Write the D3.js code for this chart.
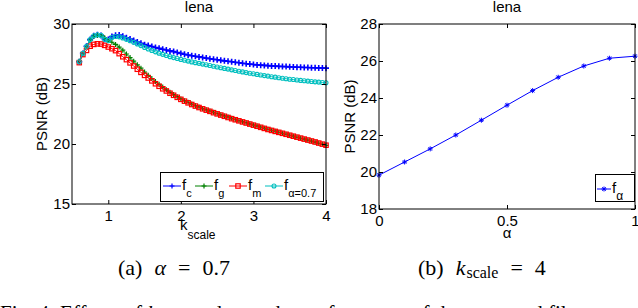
<!DOCTYPE html>
<html><head><meta charset="utf-8">
<script src="https://cdn.jsdelivr.net/npm/d3@7/dist/d3.min.js"></script>
<style>
body{margin:0;background:#fff;}
svg{display:block;}
text{font-family:"Liberation Sans",Arial,sans-serif;fill:#000;}
.cap{font-family:"Liberation Serif","Times New Roman",serif;}
</style></head>
<body><svg id="c" width="638" height="308"></svg>
<script>
// ---- data ----
const kScale = [0.6,0.65,0.7,0.75,0.8,0.85,0.9,0.95,1.0,1.05,1.1,1.15,1.2,1.25,1.3,1.35,1.4,1.45,1.5,1.55,1.6,1.65,1.7,1.75,1.8,1.85,1.9,1.95,
  2.0,2.05,2.1,2.15,2.2,2.25,2.3,2.35,2.4,2.45,2.5,2.55,2.6,2.65,2.7,2.75,2.8,2.85,2.9,2.95,3.0,3.05,3.1,3.15,3.2,3.25,3.3,3.35,3.4,3.45,3.5,3.55,3.6,3.65,3.7,3.75,3.8,3.85,3.9,3.95,4.0];
const fC = [26.85,27.55,28.15,28.7,29.02,29.1,29.05,28.72,28.7,28.95,29.06,29.08,28.98,28.85,28.74,28.62,28.5,28.39,28.28,28.2,28.12,28.04,27.97,27.9,27.83,27.76,27.7,27.63,
  27.55,27.48,27.42,27.36,27.31,27.26,27.21,27.16,27.11,27.06,27.02,26.97,26.93,26.89,26.85,26.81,26.77,26.73,26.69,26.66,26.62,26.59,26.57,26.55,26.53,26.51,26.49,26.47,26.46,26.45,26.43,26.42,26.4,26.39,26.38,26.37,26.36,26.35,26.34,26.33,26.32];
const fG = [26.9,27.5,28.1,28.65,28.98,29.05,29.05,28.85,28.6,28.48,28.3,28.08,27.82,27.5,27.2,26.9,26.6,26.32,26.0,25.72,25.45,25.2,24.97,24.74,24.52,24.31,24.12,23.94,
  23.76,23.61,23.47,23.33,23.2,23.08,22.96,22.85,22.75,22.64,22.54,22.44,22.34,22.24,22.14,22.04,21.95,21.86,21.77,21.68,21.58,21.49,21.4,21.31,21.22,21.14,21.06,20.98,20.89,20.81,20.73,20.65,20.56,20.48,20.4,20.32,20.24,20.15,20.06,19.97,19.88];
const fM = [26.78,27.45,27.8,28.15,28.3,28.35,28.33,28.22,28.08,27.94,27.78,27.53,27.27,27.03,26.76,26.5,26.23,25.97,25.72,25.5,25.26,25.02,24.81,24.6,24.42,24.23,24.06,23.89,
  23.72,23.57,23.43,23.29,23.16,23.04,22.93,22.82,22.72,22.61,22.51,22.41,22.31,22.21,22.11,22.02,21.93,21.84,21.75,21.66,21.57,21.48,21.39,21.3,21.21,21.13,21.05,20.97,20.89,20.81,20.73,20.65,20.57,20.49,20.41,20.33,20.25,20.17,20.08,19.99,19.9];
const fA07 = [26.85,27.55,28.15,28.7,29.02,29.1,29.05,28.72,28.62,28.88,28.96,28.93,28.84,28.72,28.6,28.47,28.34,28.2,28.05,27.92,27.8,27.68,27.57,27.47,27.37,27.28,27.2,27.12,
  27.05,26.98,26.91,26.84,26.78,26.72,26.66,26.6,26.54,26.48,26.42,26.36,26.3,26.24,26.18,26.12,26.06,26.01,25.95,25.9,25.85,25.8,25.75,25.7,25.66,25.61,25.57,25.52,25.48,25.44,25.4,25.37,25.33,25.3,25.27,25.24,25.21,25.18,25.16,25.13,25.11];
const alphaVals = [0,0.1,0.2,0.3,0.4,0.5,0.6,0.7,0.8,0.9,1.0];
const fAlpha = [19.83,20.54,21.25,22.0,22.8,23.61,24.4,25.12,25.73,26.15,26.26];
const leftXTicks = [1,2,3,4];
const leftYTicks = [15,20,25,30];
const rightXTicks = [0,0.5,1];
const rightYTicks = [18,20,22,24,26,28];

const svg = d3.select("#c");

function axesBox(g, x, y, xt, yt, xfmt) {
  const [x0,x1] = x.range(), [y1,y0] = y.range();
  g.append("g").attr("transform",`translate(0,${y1})`)
    .call(d3.axisBottom(x).tickValues(xt).tickFormat(xfmt).tickSizeInner(-4).tickSizeOuter(0).tickPadding(6))
    .call(a=>{a.select(".domain").remove(); a.selectAll("text").attr("font-size",15).attr("font-family","Liberation Sans, Arial, sans-serif");});
  g.append("g").attr("transform",`translate(0,${y0})`)
    .call(d3.axisTop(x).tickValues(xt).tickFormat("").tickSizeInner(-4).tickSizeOuter(0))
    .call(a=>a.select(".domain").remove());
  g.append("g").attr("transform",`translate(${x0},0)`)
    .call(d3.axisLeft(y).tickValues(yt).tickSizeInner(-4).tickSizeOuter(0).tickPadding(2))
    .call(a=>{a.select(".domain").remove(); a.selectAll("text").attr("font-size",15).attr("font-family","Liberation Sans, Arial, sans-serif");});
  g.append("g").attr("transform",`translate(${x1},0)`)
    .call(d3.axisRight(y).tickValues(yt).tickFormat("").tickSizeInner(-4).tickSizeOuter(0))
    .call(a=>a.select(".domain").remove());
  g.append("rect").attr("x",x0).attr("y",y0).attr("width",x1-x0).attr("height",y1-y0)
    .attr("fill","none").attr("stroke","#000").attr("stroke-width",1);
}

function marker(g, type, color, cx, cy) {
  if (type==="plus") {
    g.append("path").attr("d",`M${cx-3},${cy}H${cx+3}M${cx},${cy-3}V${cy+3}`).attr("stroke",color).attr("stroke-width",1.6).attr("fill","none");
  } else if (type==="plusThin") {
    g.append("path").attr("d",`M${cx-2.5},${cy}H${cx+2.5}M${cx},${cy-2.5}V${cy+2.5}`).attr("stroke",color).attr("stroke-width",1.2).attr("fill","none");
  } else if (type==="square") {
    g.append("rect").attr("x",cx-2.2).attr("y",cy-2.2).attr("width",4.4).attr("height",4.4).attr("stroke",color).attr("stroke-width",1.2).attr("fill","none");
  } else if (type==="circle") {
    g.append("circle").attr("cx",cx).attr("cy",cy).attr("r",2).attr("stroke",color).attr("stroke-width",1.1).attr("fill","none");
  } else if (type==="star") {
    g.append("path").attr("d",`M${cx-2.5},${cy}H${cx+2.5}M${cx},${cy-2.5}V${cy+2.5}M${cx-1.8},${cy-1.8}L${cx+1.8},${cy+1.8}M${cx-1.8},${cy+1.8}L${cx+1.8},${cy-1.8}`).attr("stroke",color).attr("stroke-width",1).attr("fill","none");
  }
}

// ---- left plot ----
const xL = d3.scaleLinear().domain([0.5,4]).range([72,326]);
const yL = d3.scaleLinear().domain([15,30]).range([204,24]);
const gL = svg.append("g");
const seriesL = [
  {v:fC, color:"#0000ff", m:"plus"},
  {v:fG, color:"#008000", m:"plusThin"},
  {v:fM, color:"#ff0000", m:"square"},
  {v:fA07, color:"#00bfbf", m:"circle"}
];
seriesL.forEach(s=>{
  const g = gL.append("g");
  const pts = kScale.map((k,i)=>[xL(k), yL(s.v[i])]);
  g.append("path").attr("d",d3.line()(pts)).attr("fill","none").attr("stroke",s.color).attr("stroke-width",1);
  pts.forEach(p=>marker(g,s.m,s.color,p[0],p[1]));
});
axesBox(gL, xL, yL, leftXTicks, leftYTicks, d3.format("d"));
gL.append("text").attr("x",199).attr("y",12).attr("text-anchor","middle").attr("font-size",15).text("lena");
gL.append("text").attr("transform","translate(47,114) rotate(-90)").attr("text-anchor","middle").attr("font-size",15).text("PSNR (dB)");
const xlab = gL.append("text").attr("x",180).attr("y",230).attr("font-size",15);
xlab.append("tspan").text("k");
xlab.append("tspan").attr("dy",9).attr("font-size",12).text("scale");

// legend left
const lg = gL.append("g");
lg.append("rect").attr("x",160.5).attr("y",172.5).attr("width",163).attr("height",29).attr("fill","#fff").attr("stroke","#000").attr("stroke-width",1);
const legItems = [
  {x:163, color:"#0000ff", m:"plus", sub:"c"},
  {x:195, color:"#008000", m:"plusThin", sub:"g"},
  {x:229, color:"#ff0000", m:"square", sub:"m"},
  {x:265, color:"#00bfbf", m:"circle", sub:"α=0.7"}
];
legItems.forEach(it=>{
  lg.append("line").attr("x1",it.x).attr("x2",it.x+18).attr("y1",186).attr("y2",186).attr("stroke",it.color).attr("stroke-width",1);
  marker(lg, it.m==="plus"?"plusThin":it.m, it.color, it.x+9, 186);
  const t = lg.append("text").attr("x",it.x+19).attr("y",190).attr("font-size",15);
  t.append("tspan").text("f");
  t.append("tspan").attr("dy",7).attr("font-size",11).text(it.sub);
});

// ---- right plot ----
const xR = d3.scaleLinear().domain([0,1]).range([379,635]);
const yR = d3.scaleLinear().domain([18,28]).range([209,24]);
const gR = svg.append("g");
const ptsR = alphaVals.map((a,i)=>[xR(a), yR(fAlpha[i])]);
gR.append("path").attr("d",d3.line()(ptsR)).attr("fill","none").attr("stroke","#0000ff").attr("stroke-width",1);
ptsR.forEach(p=>marker(gR,"star","#0000ff",p[0],p[1]));
axesBox(gR, xR, yR, rightXTicks, rightYTicks, d=>d===0.5?"0.5":d3.format("d")(d));
gR.append("text").attr("x",507).attr("y",12).attr("text-anchor","middle").attr("font-size",15).text("lena");
gR.append("text").attr("transform","translate(355,116.5) rotate(-90)").attr("text-anchor","middle").attr("font-size",15).text("PSNR (dB)");
gR.append("text").attr("x",507).attr("y",238).attr("text-anchor","middle").attr("font-size",15).text("α");
const lgR = gR.append("g");
lgR.append("rect").attr("x",595.5).attr("y",174.5).attr("width",39).attr("height",27).attr("fill","#fff").attr("stroke","#000").attr("stroke-width",1);
lgR.append("line").attr("x1",597).attr("x2",611).attr("y1",189).attr("y2",189).attr("stroke","#0000ff");
marker(lgR,"star","#0000ff",604,189);
const tR = lgR.append("text").attr("x",612).attr("y",193).attr("font-size",15);
tR.append("tspan").text("f");
tR.append("tspan").attr("dy",7).attr("font-size",12).text("α");

// ---- captions ----
const capA = svg.append("text").attr("class","cap").attr("x",118).attr("y",275).attr("font-size",22);
capA.append("tspan").text("(a)");
capA.append("tspan").attr("dx",12).attr("font-style","italic").text("α");
capA.append("tspan").attr("dx",12).text("=");
capA.append("tspan").attr("dx",12).text("0.7");
const capB = svg.append("text").attr("class","cap").attr("x",418).attr("y",275).attr("font-size",22);
capB.append("tspan").text("(b)");
capB.append("tspan").attr("dx",12).attr("font-style","italic").text("k");
capB.append("tspan").attr("font-size",16).attr("dy",3).attr("dx",1).text("scale");
capB.append("tspan").attr("dy",-3).attr("dx",12).text("=");
capB.append("tspan").attr("dx",12).text("4");
const fig = svg.append("text").attr("class","cap").attr("x",0).attr("y",320).attr("font-size",21);
fig.append("tspan").text("Fig. 4: ");
fig.append("tspan").text("Effects of ");
fig.append("tspan").attr("font-style","italic").text("k");
fig.append("tspan").attr("font-size",15).text("scale");
fig.append("tspan").text(" and ");
fig.append("tspan").attr("font-style","italic").text("α");
fig.append("tspan").text(" on the performance of the proposed filter.");
</script></body></html>
